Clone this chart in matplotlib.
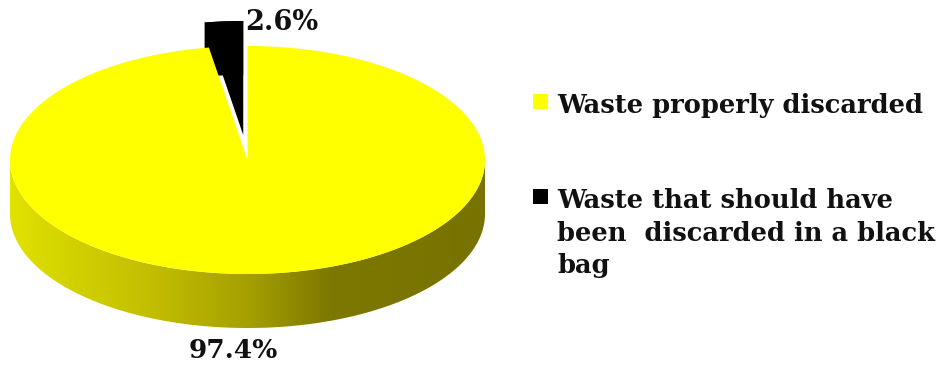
import numpy as np
import matplotlib
matplotlib.use('Agg')
import matplotlib.pyplot as plt
from matplotlib.patches import Polygon, Rectangle
from matplotlib.colors import LinearSegmentedColormap

# Waste disposal shares (percent)
labels = ['Waste properly discarded',
          'Waste that should have\nbeen  discarded in a black\nbag']
shares = [97.4, 2.6]
colors = ['#ffff00', '#000000']

# Pie geometry in figure pixels (y grows downwards)
cx, cy = 247.5, 160.0     # centre of the top face
rx, ry = 237.5, 114.0     # half axes of the top ellipse
depth = 54.0              # thickness of the disc
explode = [0.0, 0.22]     # radial pull-out per slice

# shading of the rim, light on the left and olive on the right
rim_shade = LinearSegmentedColormap.from_list('rim', [
    (0.0, '#e2e200'), (0.105, '#d4d400'), (0.295, '#c3be00'),
    (0.5, '#a5a000'), (0.675, '#7d7800'), (1.0, '#787300')])


def arc(a0, a1, dx=0.0, dy=0.0, n=200):
    t = np.radians(np.linspace(a0, a1, n))
    return np.column_stack([cx + dx + rx * np.cos(t), cy + dy - ry * np.sin(t)])


plt.rcParams['font.family'] = 'DejaVu Serif'
plt.rcParams['font.weight'] = 'bold'

fig = plt.figure(figsize=(9.47, 3.66), dpi=100)
ax = fig.add_axes([0, 0, 1, 1])

# slices start at 12 o'clock and run clockwise
fracs = np.array(shares) / sum(shares)
ends = 90 - 360 * np.cumsum(fracs)
starts = np.concatenate([[90], ends[:-1]])

for i, (a0, a1) in enumerate(zip(starts, ends)):
    mid = np.radians((a0 + a1) / 2)
    dx = rx * explode[i] * np.cos(mid)
    dy = -ry * explode[i] * np.sin(mid)
    top = arc(a0, a1, dx, dy)
    z = 5 if i == 0 else 2

    if i == 0:
        # front part of the rim, drawn with a horizontal gradient
        lo, hi = max(a1, -180), min(a0, 0)
        edge = arc(lo, hi, dx, dy)
        rim = np.vstack([edge, (edge + [0, depth])[::-1]])
        rim_patch = Polygon(rim, closed=True, facecolor='none', edgecolor='none')
        ax.add_patch(rim_patch)
        im = ax.imshow(np.linspace(0, 1, 256)[None, :], cmap=rim_shade,
                       extent=(cx - rx, cx + rx, cy + ry + depth + 2, cy - 2),
                       aspect='auto', zorder=z - 1, interpolation='bilinear')
        im.set_clip_path(rim_patch)
    else:
        # rim of the pulled-out slice
        rim = np.vstack([top, (top + [0, depth])[::-1]])
        ax.add_patch(Polygon(rim, closed=True, facecolor=colors[i],
                             edgecolor='none', zorder=z))

    face = np.vstack([[cx + dx, cy + dy], top])
    ax.add_patch(Polygon(face, closed=True, facecolor=colors[i],
                         edgecolor='none', zorder=z + 1))

# value labels
ax.text(245, 30, f'{shares[1]:.1f}%', fontsize=19.5, ha='left', va='baseline',
        color='#111111', zorder=10)
ax.text(233, 358, f'{shares[0]:.1f}%', fontsize=19, ha='center', va='baseline',
        color='#111111', zorder=10)

# legend, each entry hangs from the top of its first line
legend_tops = [93, 188]
for lab, col, top_y in zip(labels, colors, legend_tops):
    ax.add_patch(Rectangle((533, top_y + 1), 15, 15, facecolor=col,
                           edgecolor='none', zorder=10))
    ax.text(557, top_y, lab, fontsize=18.5, ha='left', va='top',
            linespacing=1.38, color='#111111', zorder=10)

ax.set_xlim(0, 947)
ax.set_ylim(366, 0)
ax.axis('off')

fig.savefig('out.png', dpi=100)
